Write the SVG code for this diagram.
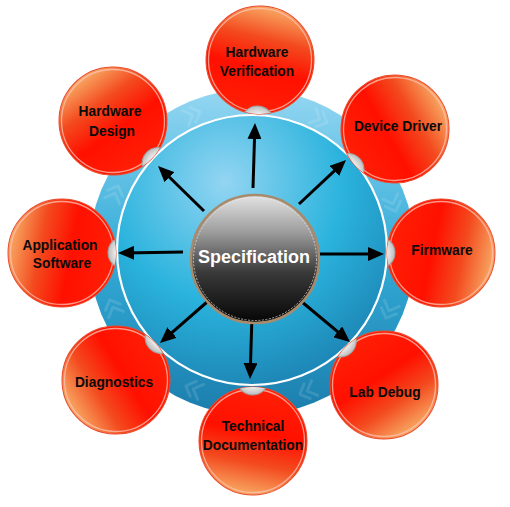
<svg xmlns="http://www.w3.org/2000/svg" xmlns:xlink="http://www.w3.org/1999/xlink" width="510" height="507" viewBox="0 0 510 507">
<style>
.lbl{font-family:"Liberation Sans",Arial,sans-serif;font-weight:bold;font-size:13.8px;fill:#0a0a0a;text-anchor:middle}
.spec{font-family:"Liberation Sans",Arial,sans-serif;font-weight:bold;font-size:18px;fill:#fff;text-anchor:middle}
.arr{stroke:#000;stroke-width:3;fill:none;marker-end:url(#head)}
.chev{stroke:#fff;stroke-opacity:0.12;stroke-width:3;fill:none;stroke-linecap:round;stroke-linejoin:round}
</style>
<defs>
<linearGradient id="band" x1="0" y1="0" x2="0" y2="1">
<stop offset="0" stop-color="#95d7f2"/>
<stop offset="0.5" stop-color="#34acd8"/>
<stop offset="1" stop-color="#1b7ead"/>
</linearGradient>
<radialGradient id="inner" cx="0.4" cy="0.25" r="0.8">
<stop offset="0" stop-color="#93d5f2"/>
<stop offset="0.55" stop-color="#2ab3dd"/>
<stop offset="1" stop-color="#1c82b2"/>
</radialGradient>
<linearGradient id="specGrad" x1="0" y1="0" x2="0" y2="1">
<stop offset="0" stop-color="#e4e4e4"/>
<stop offset="0.3" stop-color="#9a9a9a"/>
<stop offset="0.6" stop-color="#3a3a3a"/>
<stop offset="1" stop-color="#050505"/>
</linearGradient>
<linearGradient id="redGrad" x1="0" y1="0.4" x2="1" y2="0.6">
<stop offset="0" stop-color="#ff2005"/>
<stop offset="0.42" stop-color="#ff1000"/>
<stop offset="0.7" stop-color="#f34a1e"/>
<stop offset="1" stop-color="#f8ac66"/>
</linearGradient>
<radialGradient id="notchGrad" cx="0.3" cy="0.5" r="0.75">
<stop offset="0.5" stop-color="#ffffff"/>
<stop offset="1" stop-color="#b0b0b0"/>
</radialGradient>
<clipPath id="bubbleClip" clipPathUnits="userSpaceOnUse"><circle cx="0" cy="0" r="54"/></clipPath>
<marker id="head" viewBox="0 0 16 14" refX="10" refY="7" markerWidth="16" markerHeight="14" markerUnits="userSpaceOnUse" orient="auto">
<path d="M0,0 L16,7 L0,14 Z" fill="#000"/>
</marker>
<g id="bubble">
<circle r="54" fill="url(#redGrad)" stroke="#ea4a2c" stroke-width="1"/>
<circle r="51.5" fill="none" stroke="#ffc4b4" stroke-opacity="0.75" stroke-width="1.3"/>
<circle cx="-62" cy="0" r="16" fill="url(#notchGrad)" stroke="#a0a0a0" stroke-width="1" clip-path="url(#bubbleClip)"/>
</g>
<path id="chevron" d="M-5,-8 L3,0 L-5,8 M3,-8 L11,0 L3,8"/>
</defs>

<g id="background">
<circle cx="252" cy="252" r="163" fill="url(#band)"/>
<g class="chev">
<use xlink:href="#chevron" transform="translate(317,118) rotate(26)"/>
<use xlink:href="#chevron" transform="translate(392,201) rotate(70)"/>
<use xlink:href="#chevron" transform="translate(390,308) rotate(112)"/>
<use xlink:href="#chevron" transform="translate(310,390) rotate(157)"/>
<use xlink:href="#chevron" transform="translate(196,390) rotate(202)"/>
<use xlink:href="#chevron" transform="translate(114,310) rotate(247)"/>
<use xlink:href="#chevron" transform="translate(114,196) rotate(292)"/>
<use xlink:href="#chevron" transform="translate(190,116) rotate(337)"/>
</g>
<circle cx="252" cy="250" r="135" fill="url(#inner)" stroke="#ffffff" stroke-width="2.2"/>
</g>

<g id="connectors">
<line class="arr" x1="253" y1="188" x2="254.8" y2="129"/>
<line class="arr" x1="299" y1="204" x2="341.6" y2="164.1"/>
<line class="arr" x1="319" y1="254" x2="378" y2="254"/>
<line class="arr" x1="302" y1="302" x2="345.4" y2="338.2"/>
<line class="arr" x1="252" y1="316" x2="250.2" y2="373"/>
<line class="arr" x1="207" y1="302" x2="164.5" y2="339.1"/>
<line class="arr" x1="183" y1="252" x2="124" y2="253"/>
<line class="arr" x1="204" y1="211" x2="162.3" y2="170.2"/>
</g>

<g id="specification">
<circle cx="255" cy="259" r="64" fill="url(#specGrad)" stroke="#a88a6c" stroke-width="2.5"/>
<circle cx="255" cy="259" r="61.5" fill="none" stroke="#e8e8e8" stroke-opacity="0.7" stroke-width="1" stroke-dasharray="2 1.5"/>
<text class="spec" x="254" y="263">Specification</text>
</g>

<g id="hardware-verification" transform="translate(260,60)">
<use xlink:href="#bubble" transform="rotate(-87.6)"/>
<text class="lbl" x="-3" y="-3">Hardware</text>
<text class="lbl" x="-3" y="16">Verification</text>
</g>
<g id="device-driver" transform="translate(395,129)">
<use xlink:href="#bubble" transform="rotate(-40.7)"/>
<text class="lbl" x="3" y="2">Device Driver</text>
</g>
<g id="firmware" transform="translate(441,253)">
<use xlink:href="#bubble" transform="rotate(0.3)"/>
<text class="lbl" x="1" y="2">Firmware</text>
</g>
<g id="lab-debug" transform="translate(384,385)">
<use xlink:href="#bubble" transform="rotate(45.2)"/>
<text class="lbl" x="1" y="12">Lab Debug</text>
</g>
<g id="technical-documentation" transform="translate(253,441)">
<use xlink:href="#bubble" transform="rotate(89.7)"/>
<text class="lbl" x="0" y="-10">Technical</text>
<text class="lbl" x="0" y="9">Documentation</text>
</g>
<g id="diagnostics" transform="translate(116,380)">
<use xlink:href="#bubble" transform="rotate(136.7)"/>
<text class="lbl" x="-2" y="7">Diagnostics</text>
</g>
<g id="application-software" transform="translate(62,253)">
<use xlink:href="#bubble" transform="rotate(179.7)"/>
<text class="lbl" x="-2" y="-3">Application</text>
<text class="lbl" x="0" y="15">Software</text>
</g>
<g id="hardware-design" transform="translate(113,121)">
<use xlink:href="#bubble" transform="rotate(-136.7)"/>
<text class="lbl" x="-3" y="-5">Hardware</text>
<text class="lbl" x="-1" y="15">Design</text>
</g>
</svg>
